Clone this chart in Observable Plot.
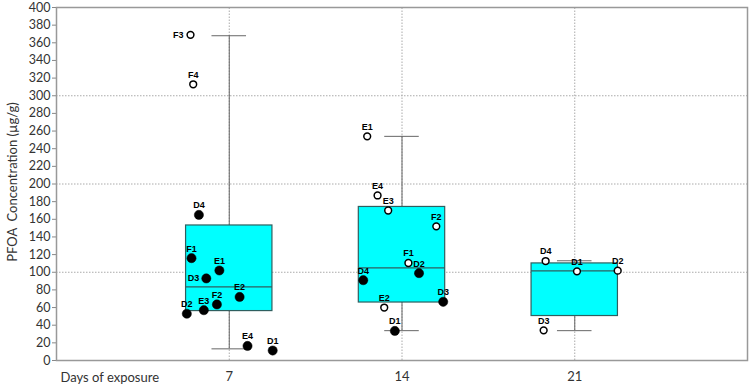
<!DOCTYPE html>
<html><head><meta charset="utf-8">
<script src="https://cdn.jsdelivr.net/npm/d3@7"></script>
<script src="https://cdn.jsdelivr.net/npm/@observablehq/plot@0.6"></script>
<style>body{margin:0;background:#fff}</style>
</head><body><div id="chart"></div>
<script>
// Box statistics per exposure day
const days = [7, 14, 21];
const q1 = [56, 65.7, 50.4];
const median = [83.4, 105, 101.5];
const q3 = [153, 174, 110];
const whiskerLow = [13.2, 33.8, 33.8];
const whiskerHigh = [368, 254, 113];

// Individual samples
const ptGroup = [7,7,7,7,7,7,7,7,7,7,7,7, 14,14,14,14,14,14,14,14,14,14, 21,21,21,21];
const ptLabel = ["F3","F4","D4","F1","E1","D3","E2","F2","E3","D2","E4","D1",
                 "E1","E4","E3","F2","F1","D2","D4","D3","E2","D1",
                 "D4","D1","D2","D3"];
const ptX = [5.43,5.54,5.77,5.47,6.60,6.07,7.42,6.50,5.97,5.28,7.74,8.76,
             12.59,13.01,13.44,15.39,14.26,14.69,12.43,15.67,13.28,13.71,
             19.82,21.09,22.74,19.74];
const ptValue = [369,313,165,116,102,93,72,63.5,57,53,16.5,11.3,
                 254,187,170,152,110.5,99,91,66.5,60,33.5,
                 112.7,101,101.8,34.2];
const ptFilled = [false,false,true,true,true,true,true,true,true,true,true,true,
                  false,false,false,false,false,true,true,true,false,true,
                  false,false,false,false];
const leftLabels = ["7-F3", "7-D3"];

const xTicks = [7, 14, 21];
const yTicks = d3.range(0, 401, 20);
const yGrid = [100, 200, 300];

const boxes = days.map((d, i) => ({day: d, q1: q1[i], median: median[i], q3: q3[i], lo: whiskerLow[i], hi: whiskerHigh[i]}));
const points = ptLabel.map((l, i) => ({group: ptGroup[i], label: l, x: ptX[i], y: ptValue[i], filled: ptFilled[i],
  left: leftLabels.includes(ptGroup[i] + "-" + l)}));

const BW = 1.75, CW = 0.7;
const boxColor = "#2F5F5F";

const chart = Plot.plot({
  width: 749, height: 386,
  marginLeft: 56, marginRight: 2, marginTop: 7, marginBottom: 26,
  x: {domain: [0, 28]},
  y: {domain: [0, 400]},
  style: {fontFamily: "Lato, sans-serif", fontSize: "13px", color: "#333", background: "#fff", overflow: "visible"},
  marks: [
    Plot.ruleX(xTicks, {y1: 0, y2: 400, stroke: "#aaa", strokeDasharray: "1.5,1.5"}),
    Plot.ruleY(yGrid, {stroke: "#aaa", strokeDasharray: "1.5,1.5"}),
    Plot.ruleX(boxes, {x: "day", y1: "lo", y2: "hi", stroke: "#666"}),
    Plot.ruleY(boxes, {y: "hi", x1: d => d.day - CW, x2: d => d.day + CW, stroke: "#666"}),
    Plot.ruleY(boxes, {y: "lo", x1: d => d.day - CW, x2: d => d.day + CW, stroke: "#666"}),
    Plot.rect(boxes, {x1: d => d.day - BW, x2: d => d.day + BW, y1: "q1", y2: "q3", fill: "#00FFFF", stroke: boxColor, strokeWidth: 1.2}),
    Plot.ruleY(boxes, {y: "median", x1: d => d.day - BW, x2: d => d.day + BW, stroke: boxColor, strokeWidth: 1.2}),
    Plot.dot(points.filter(d => d.filled), {x: "x", y: "y", r: 4.6, fill: "black", stroke: "black", strokeWidth: 0.5}),
    Plot.dot(points.filter(d => !d.filled), {x: "x", y: "y", r: 3.4, fill: "white", stroke: "black", strokeWidth: 1.5}),
    Plot.text(points.filter(d => !d.left), {x: "x", y: "y", text: "label", dy: -9.5, fontSize: 9, fontWeight: "bold", fontFamily: "Liberation Sans, Arial, sans-serif", fill: "black"}),
    Plot.text(points.filter(d => d.left), {x: "x", y: "y", text: "label", dx: -7, textAnchor: "end", fontSize: 9, fontWeight: "bold", fontFamily: "Liberation Sans, Arial, sans-serif", fill: "black"}),
    Plot.axisY({ticks: yTicks, tickSize: 4, tickPadding: 2, stroke: "#888", label: null, fontSize: 12.5}),
    Plot.axisX({ticks: xTicks, tickSize: 0, tickPadding: 11, label: null, fontSize: 13}),
    Plot.text(["PFOA\u00a0 Concentration (µg/g)"], {frameAnchor: "left", textAnchor: "middle", rotate: -90, dx: -44, dy: -2, fontSize: 13}),
    Plot.text(["Days of exposure"], {frameAnchor: "bottom-left", dx: 4, dy: 17, textAnchor: "start", lineAnchor: "middle", fontSize: 13}),
    Plot.frame({stroke: "#999", strokeWidth: 1.5})
  ]
});
document.getElementById("chart").appendChild(chart);
</script>
</body></html>
